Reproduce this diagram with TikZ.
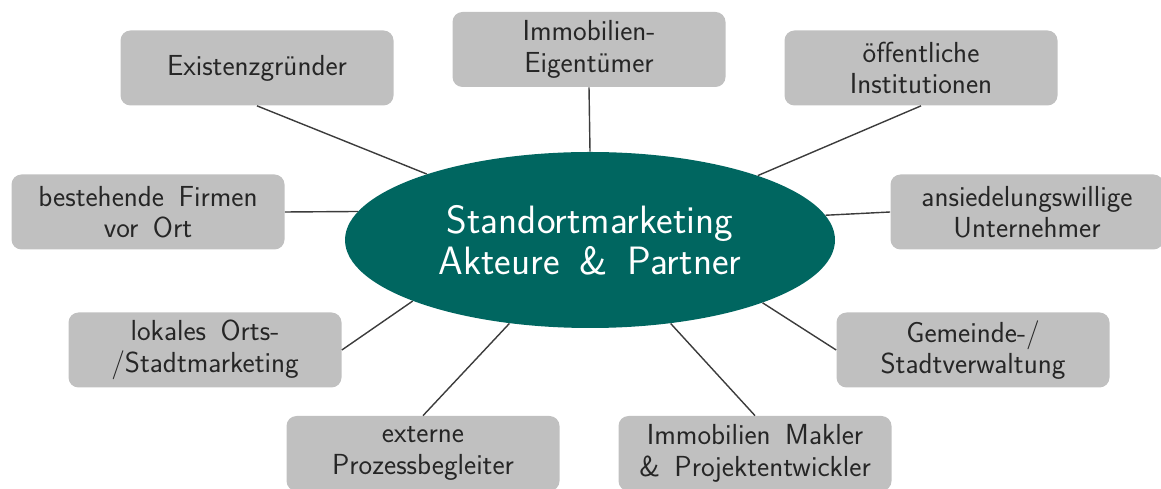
\documentclass[tikz,border=0pt]{standalone}
\usepackage{tikz}
\usetikzlibrary{shapes.geometric,calc}
\definecolor{petrol}{RGB}{0,102,96}
\definecolor{boxgray}{RGB}{192,192,192}
\definecolor{txtgray}{RGB}{38,38,38}
\newcommand{\widewords}{\spaceskip=0.5em plus 0.1em\relax}

\begin{document}
\begin{tikzpicture}[
    partner/.style={fill=boxgray, rounded corners=0.2cm, minimum width=5.46cm,
      minimum height=1.5cm, align=center, text=txtgray,
      font=\sffamily\fontsize{16.5}{18}\selectfont,
      execute at begin node=\widewords},
    hub/.style={ellipse, fill=petrol, minimum width=9.8cm, minimum height=3.52cm,
      align=center, text=white, font=\sffamily\fontsize{22.5}{23.5}\selectfont,
      execute at begin node=\widewords},
    link/.style={draw=txtgray!90, line width=0.8pt}
  ]
            \useasboundingbox (0,0) rectangle (23.22,9.76);
            % centre
            \node[hub] (st) at (11.8,4.96) {Standortmarketing\\Akteure \& Partner};
            % partner boxes
            \node[partner] (ex) at (5.14,8.40) {Existenzgründer};
            \node[partner] (im) at (11.78,8.77) {Immobilien-\\Eigentümer};
            \node[partner] (of) at (18.42,8.40) {öffentliche\\Institutionen};
            \node[partner] (bf) at (2.96,5.52) {bestehende Firmen\\vor Ort};
            \node[partner] (an) at (20.54,5.52) {ansiedelungswillige\\Unternehmer};
            \node[partner] (lo) at (4.10,2.76) {lokales Orts-\\/Stadtmarketing};
            \node[partner] (ge) at (19.46,2.76) {Gemeinde-/\\Stadtverwaltung};
            \node[partner] (ep) at (8.46,0.69) {externe\\Prozessbegleiter};
            \node[partner] (mk) at (15.10,0.69) {Immobilien Makler\\\& Projektentwickler};
            % connectors
            \draw[link] (ex.south) -- (st.158.2);
            \draw[link] (im.south) -- (st.north);
            \draw[link] (of.south) -- (st.21.8);
            \draw[link] (bf.east) -- (st.173.1);
            \draw[link] (an.west) -- (st.6.9);
            \draw[link] (lo.east) -- (st.199.7);
            \draw[link] (ge.west) -- (st.340.5);
            \draw[link] (ep.north) -- (st.226.8);
            \draw[link] (mk.north) -- (st.314.7);
          \end{tikzpicture}
\end{document}
